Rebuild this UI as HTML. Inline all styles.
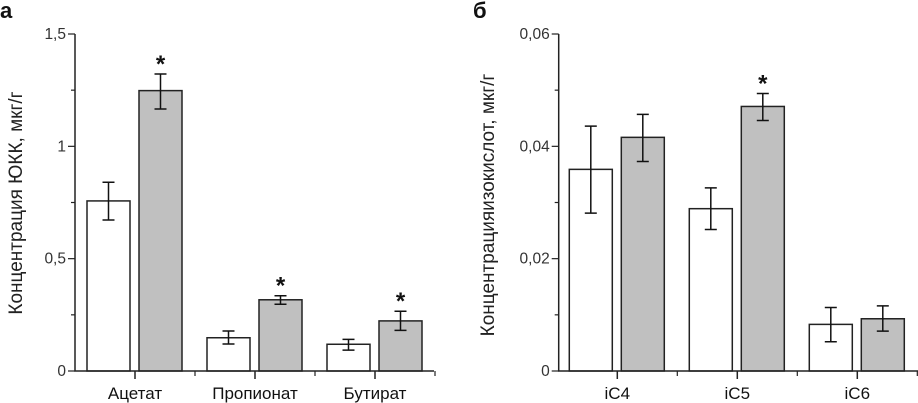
<!DOCTYPE html>
<html><head><meta charset="utf-8"><style>
html,body{margin:0;padding:0;background:#fff;}
svg{display:block;font-family:"Liberation Sans",Arial,sans-serif;}
</style></head><body>
<svg id="c" width="918" height="403" viewBox="0 0 918 403"></svg>
<script>
const catsA=["Ацетат","Пропионат","Бутират"];
const ctrlA=[0.757,0.148,0.119];
const ctrlAHi=[0.84,0.178,0.141];
const ctrlALo=[0.672,0.12,0.093];
const expA=[1.248,0.317,0.223];
const expAHi=[1.322,0.335,0.266];
const expALo=[1.166,0.297,0.181];
const sigA=[true,true,true];
const ticksA=["0","0,5","1","1,5"];
const tickValsA=[0,0.5,1,1.5];

const catsB=["iC4","iC5","iC6"];
const ctrlB=[0.0359,0.0289,0.0083];
const ctrlBHi=[0.0436,0.0326,0.0113];
const ctrlBLo=[0.0281,0.0252,0.0052];
const expB=[0.0416,0.0471,0.0093];
const expBHi=[0.0457,0.0494,0.0116];
const expBLo=[0.0373,0.0446,0.0071];
const sigB=[false,true,false];
const ticksB=["0","0,02","0,04","0,06"];
const tickValsB=[0,0.02,0.04,0.06];

const svg=document.getElementById('c');
const NS="http://www.w3.org/2000/svg";
function mk(tag,attrs,parent){const e=document.createElementNS(NS,tag);for(const k in attrs)e.setAttribute(k,attrs[k]);(parent||svg).appendChild(e);return e;}

function panel(o){
  const g=mk('g',{});
  
  
  const y0=371,yTop=34;
  const ys=v=>y0-(v/o.max)*(y0-yTop);
  const xs=i=>o.c0+i*120;
  o.cats.forEach((c,i)=>{
    const cx=xs(i);
    [[o.ctrl,o.ctrlHi,o.ctrlLo,-48,'#fff','control'],[o.exp,o.expHi,o.expLo,4,'#c0c0c0','experiment']].forEach(s=>{
      const v=s[0][i];
      const r=mk('rect',{x:cx+s[3],y:ys(v),width:43,height:y0-ys(v),fill:s[4],stroke:'#222','stroke-width':1.5},g);
      
      
      const ex=cx+s[3]+21.5;
      const eb=mk('path',{d:`M${ex},${ys(s[1][i])}V${ys(s[2][i])}M${ex-6},${ys(s[1][i])}H${ex+6}M${ex-6},${ys(s[2][i])}H${ex+6}`,stroke:'#111','stroke-width':1.5,fill:'none'},g);
      
      
    });
    if(o.sig[i]){
      const ex=cx+4+21.5;
      const t=mk('text',{x:ex,y:ys(o.expHi[i])-2,'text-anchor':'middle','font-size':24,'font-weight':'bold',fill:'#111'},g);
      t.textContent='*';
      
      
    }
    const lb=mk('text',{x:cx,y:399,'text-anchor':'middle','font-size':17,fill:'#111'},g);
    lb.textContent=c;
    
    
    mk('line',{x1:cx,x2:cx,y1:y0,y2:y0+8,stroke:'#222','stroke-width':1.5},g);
    mk('line',{x1:cx+60,x2:cx+60,y1:y0,y2:y0+5,stroke:'#222','stroke-width':1.2},g);
  });
  const ax=mk('path',{d:`M${o.ax},${yTop}V${y0}H${o.axEnd}`,stroke:'#222','stroke-width':1.5,fill:'none'},g);
  
  
  o.tickVals.forEach((v,i)=>{
    mk('line',{x1:o.ax-7,x2:o.ax,y1:ys(v),y2:ys(v),stroke:'#222','stroke-width':1.2},g);
    if(i<o.tickVals.length-1){const m=(v+o.tickVals[i+1])/2;mk('line',{x1:o.ax-4,x2:o.ax,y1:ys(m),y2:ys(m),stroke:'#222','stroke-width':1.2},g);}
    const t=mk('text',{x:o.ax-9,y:ys(v)+5,'text-anchor':'end','font-size':15.5,fill:'#333'},g);
    t.textContent=o.ticks[i];
    
    
  });
  const yt=mk('text',{transform:`translate(${o.titleX},${o.titleY}) rotate(-90)`,'text-anchor':'middle','font-size':19,fill:'#222'},g);
  yt.textContent=o.title;
  
  
  const pl=mk('text',{x:o.plX,y:18,'font-size':22,'font-weight':'bold',fill:'#111'},g);
  pl.textContent=o.panelLabel;
  
  
}
panel({name:'panel-a',cats:catsA,ctrl:ctrlA,ctrlHi:ctrlAHi,ctrlLo:ctrlALo,exp:expA,expHi:expAHi,expLo:expALo,sig:sigA,ticks:ticksA,tickVals:tickValsA,max:1.5,c0:135,ax:75,axEnd:434,title:'Концентрация ЮКК, мкг/г',titleX:22,titleY:203,plX:0,panelLabel:'а'});
panel({name:'panel-b',cats:catsB,ctrl:ctrlB,ctrlHi:ctrlBHi,ctrlLo:ctrlBLo,exp:expB,expHi:expBHi,expLo:expBLo,sig:sigB,ticks:ticksB,tickVals:tickValsB,max:0.06,c0:617.3,ax:558.7,axEnd:918,title:'Концентрацияизокислот, мкг/г',titleX:494,titleY:205,plX:473,panelLabel:'б'});
</script>
</body></html>
